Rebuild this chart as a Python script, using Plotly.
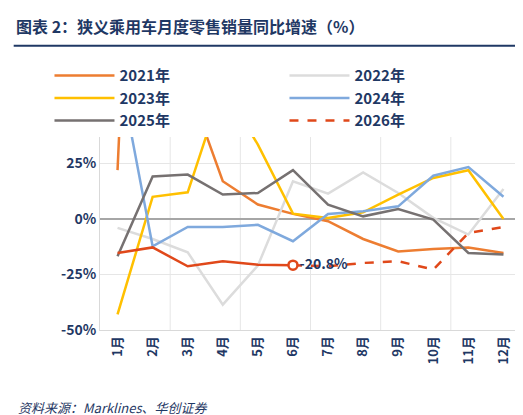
import plotly.graph_objects as go

months = ["1月", "2月", "3月", "4月", "5月", "6月", "7月", "8月", "9月", "10月", "11月", "12月"]
y2021 = [22, 370, 61, 17, 6.5, 2.3, -1, -9, -14.6, -13.5, -12.8, -15.3]
y2022 = [-4, -9, -15, -38.6, -21, 17, 11.4, 21, 11.7, 0.5, -7, 13.5]
y2023 = [-43, 10, 12, 60, 33.5, 2.4, 0.5, 3, 11, 18.5, 22, 0]
y2024 = [71, -12.3, -3.6, -3.6, -2.6, -10, 2.3, 3.5, 5.7, 19.5, 23.4, 10]
y2025 = [-16.8, 19.2, 20, 11, 11.7, 22, 6.5, 1.2, 4.5, -0.3, -15.3, -16]
y2026_actual = [-15.3, -12.8, -21.3, -19, -20.6, -20.8]
y2026_rest = [-20.8, -21.3, -19.8, -19, -22.8, -6.3, -3.6]

navy = "#1F3864"
font = "Noto Sans CJK SC"

fig = go.Figure()
series = [("2021年", y2021, "#ED7D31"), ("2022年", y2022, "#DCDCDC"), ("2023年", y2023, "#FFC000"),
          ("2024年", y2024, "#7FA9DD"), ("2025年", y2025, "#767171")]
for name, ys, c in series:
    fig.add_trace(go.Scatter(x=months, y=ys, name=name, mode="lines", line=dict(color=c, width=2.5)))

# 2026: actual solid part + dashed remainder
fig.add_trace(go.Scatter(x=months[5:], y=y2026_rest, name="2026年", mode="lines",
                         line=dict(color="#E0481A", width=2.5, dash="dash")))
fig.add_trace(go.Scatter(x=months[:6], y=y2026_actual, showlegend=False, mode="lines",
                         line=dict(color="#E0481A", width=2.5)))
fig.add_trace(go.Scatter(x=[months[5]], y=[y2026_actual[-1]], showlegend=False, mode="markers+text",
                         marker=dict(size=9, color="white", line=dict(color="#E0481A", width=2.5)),
                         text=["-20.8%"], textposition="middle right",
                         textfont=dict(size=14, color=navy, family=font, weight="bold")))

fig.update_layout(
    width=523, height=415, margin=dict(l=92, r=10, t=100, b=93, autoexpand=False),
    paper_bgcolor="white", plot_bgcolor="white",
    font=dict(family=font, color=navy, size=13, weight="bold"),
    legend=dict(orientation="h", x=-0.12, y=1.22, xanchor="left", yanchor="top",
                entrywidth=160, font=dict(size=15, color=navy, family=font, weight="bold"),
                itemwidth=60, tracegroupgap=0),
    xaxis=dict(showgrid=False, tickangle=-90, range=[-0.5, 11.5],
               tickfont=dict(size=13, color=navy, weight="bold"),
               showline=True, linecolor="#D9D9D9", mirror=True, ticks=""),
    yaxis=dict(range=[-50, 50], tickvals=[-50, -25, 0, 25, 50],
               ticktext=["-50%", "-25%", "0%", "25%", "50%"],
               tickfont=dict(size=14, color=navy, weight="bold"), gridcolor="#E6E6E6",
               zeroline=True, zerolinecolor="#A6A6A6", zerolinewidth=1.5,
               showline=True, linecolor="#D9D9D9", mirror=True),
    showlegend=True,
)
# vertical gridlines every two months
for xv in [1.5, 3.5, 5.5, 7.5, 9.5]:
    fig.add_shape(type="line", xref="x", yref="paper", x0=xv, x1=xv, y0=0, y1=1,
                  line=dict(color="#E6E6E6", width=1), layer="below")

fig.add_annotation(text="图表 2：狭义乘用车月度零售销量同比增速（%）", xref="paper", yref="paper",
                   x=-0.205, y=1.37, xanchor="left", yanchor="middle", showarrow=False,
                   font=dict(size=16, color=navy, family=font, weight="bold"))
fig.add_shape(type="line", xref="paper", yref="paper", x0=-0.205, x1=1.0, y0=1.28, y1=1.28,
              line=dict(color=navy, width=2))
fig.add_annotation(text="<i>资料来源：Marklines、华创证券</i>", xref="paper", yref="paper",
                   x=-0.2, y=-0.35, xanchor="left", yanchor="middle", showarrow=False,
                   font=dict(size=13, color=navy, family=font, weight="normal"))

fig.write_html("out.html")
